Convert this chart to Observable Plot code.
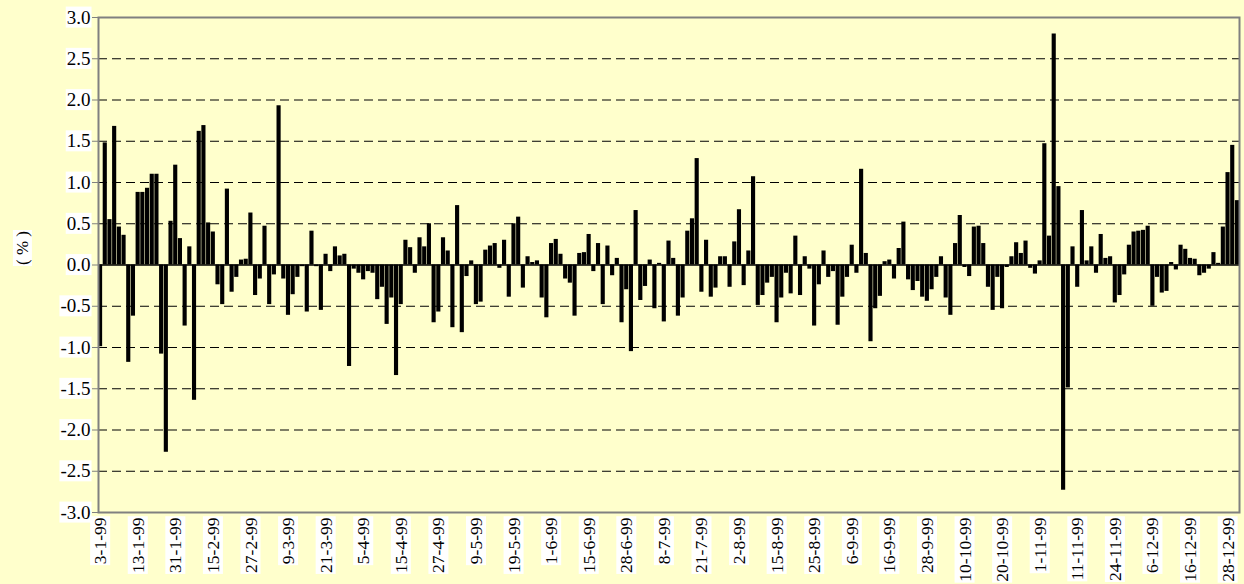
<!DOCTYPE html>
<html><head><meta charset="utf-8">
<script src="https://cdn.jsdelivr.net/npm/d3@7"></script>
<script src="https://cdn.jsdelivr.net/npm/@observablehq/plot@0.6"></script>
<style>
html,body{margin:0;padding:0;background:#FFFFCC;}
#chart{width:1244px;height:584px;overflow:hidden;}
</style></head><body><div id="chart"></div>
<script>
// Daily return (%) — one value per trading day, 1999
const returns = [
 -0.99, 1.48, 0.55, 1.68, 0.46, 0.36, -1.18, -0.62, 0.88, 0.88,
 0.93, 1.10, 1.10, -1.08, -2.27, 0.53, 1.21, 0.32, -0.74, 0.22,
 -1.64, 1.62, 1.69, 0.51, 0.40, -0.24, -0.48, 0.92, -0.33, -0.15,
 0.06, 0.07, 0.63, -0.37, -0.17, 0.47, -0.48, -0.12, 1.93, -0.17,
 -0.61, -0.36, -0.15, -0.02, -0.57, 0.41, -0.02, -0.55, 0.13, -0.08,
 0.22, 0.11, 0.13, -1.23, -0.05, -0.10, -0.18, -0.08, -0.10, -0.42,
 -0.27, -0.72, -0.40, -1.34, -0.48, 0.30, 0.21, -0.10, 0.33, 0.22,
 0.50, -0.70, -0.57, 0.33, 0.17, -0.76, 0.72, -0.82, -0.14, 0.05,
 -0.48, -0.45, 0.18, 0.23, 0.26, -0.04, 0.30, -0.39, 0.50, 0.58,
 -0.28, 0.10, 0.03, 0.05, -0.40, -0.64, 0.26, 0.31, 0.13, -0.17,
 -0.22, -0.62, 0.14, 0.15, 0.37, -0.08, 0.26, -0.48, 0.23, -0.13,
 0.08, -0.70, -0.30, -1.05, 0.66, -0.43, -0.26, 0.06, -0.53, 0.02,
 -0.69, 0.29, 0.08, -0.62, -0.40, 0.41, 0.56, 1.29, -0.33, 0.30,
 -0.39, -0.28, 0.10, 0.10, -0.27, 0.28, 0.67, -0.25, 0.17, 1.07,
 -0.49, -0.37, -0.22, -0.15, -0.70, -0.40, -0.10, -0.35, 0.35, -0.37,
 0.10, -0.05, -0.74, -0.24, 0.17, -0.15, -0.08, -0.73, -0.39, -0.15,
 0.24, -0.10, 1.16, 0.14, -0.93, -0.53, -0.38, 0.04, 0.06, -0.17,
 0.20, 0.52, -0.18, -0.31, -0.20, -0.39, -0.44, -0.30, -0.15, 0.10,
 -0.40, -0.61, 0.26, 0.60, -0.03, -0.14, 0.46, 0.47, 0.26, -0.27,
 -0.55, -0.15, -0.53, -0.03, 0.10, 0.27, 0.14, 0.29, -0.04, -0.11,
 0.05, 1.47, 0.35, 2.80, 0.95, -2.73, -1.49, 0.22, -0.27, 0.66,
 0.05, 0.22, -0.10, 0.37, 0.08, 0.10, -0.46, -0.37, -0.12, 0.24,
 0.40, 0.41, 0.42, 0.47, -0.50, -0.15, -0.34, -0.32, 0.03, -0.06,
 0.24, 0.19, 0.08, 0.07, -0.13, -0.10, -0.05, 0.15, 0.02, 0.46,
 1.12, 1.45, 0.78
];
// Category labels shown on the axis (every 8th trading day)
const tickLabels = [
 "3-1-99","13-1-99","31-1-99","15-2-99","27-2-99","9-3-99","21-3-99","5-4-99",
 "15-4-99","27-4-99","9-5-99","19-5-99","1-6-99","15-6-99","28-6-99","8-7-99",
 "21-7-99","2-8-99","15-8-99","25-8-99","6-9-99","16-9-99","28-9-99","10-10-99",
 "20-10-99","1-11-99","11-11-99","24-11-99","6-12-99","16-12-99","28-12-99"
];
const labelStep = 8;
const yTicks = [-3, -2.5, -2, -1.5, -1, -0.5, 0, 0.5, 1, 1.5, 2, 2.5, 3];
const gridLines = [-2.5, -2, -1.5, -1, -0.5, 0.5, 1, 1.5, 2, 2.5];
const yTitle = "( % )";

const data = returns.map((v, i) => ({i, v}));
const tickIdx = tickLabels.map((_, k) => k * labelStep);

const chart = Plot.plot({
  width: 1244, height: 584,
  marginLeft: 98, marginRight: 5, marginTop: 17, marginBottom: 72,
  style: {background: "transparent", fontFamily: "'Liberation Serif','Times New Roman',serif", fontSize: "19px", color: "#000"},
  x: {type: "band", domain: data.map(d => d.i), paddingInner: 0.12, paddingOuter: 0, axis: null},
  y: {domain: [-3, 3], axis: null},
  marks: [
    Plot.ruleY(gridLines, {stroke: "#000", strokeDasharray: "9,5", strokeWidth: 1}),
    Plot.barY(data, {x: "i", y: "v", fill: "#000"}),
    Plot.ruleY([0], {stroke: "#000", strokeWidth: 1.5}),
    Plot.frame({stroke: "#808080", strokeWidth: 2}),
    Plot.axisY({ticks: yTicks, tickFormat: d => d.toFixed(1), tickSize: 6, tickPadding: 2, stroke: "#808080", fill: "#000", label: null, fontSize: 19}),
    Plot.axisX({ticks: tickIdx, tickFormat: d => tickLabels[d / labelStep], tickRotate: -90, tickSize: 0, tickPadding: 5, fill: "#000", label: null, fontSize: 17.5}),
    Plot.text([yTitle], {frameAnchor: "left", dx: -76, rotate: -90, fontSize: 17, fill: "#000"})
  ]
});
document.getElementById("chart").appendChild(chart);
// white boxes behind every text, as in the original
chart.querySelectorAll("text").forEach(t => {
  const b = t.getBBox();
  const r = document.createElementNS("http://www.w3.org/2000/svg", "rect");
  r.setAttribute("x", b.x - 1);
  r.setAttribute("y", b.y);
  r.setAttribute("width", b.width + 2);
  r.setAttribute("height", b.height);
  r.setAttribute("fill", "#fff");
  const tr = t.getAttribute("transform");
  if (tr) r.setAttribute("transform", tr);
  t.parentNode.insertBefore(r, t);
});
</script>
</body></html>
